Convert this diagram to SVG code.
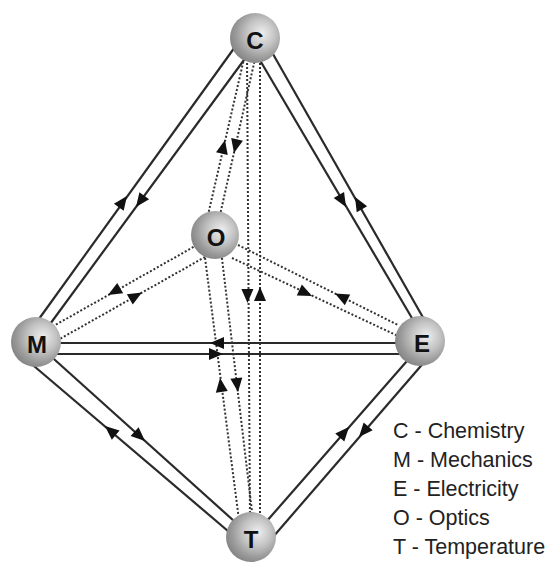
<svg xmlns="http://www.w3.org/2000/svg" xmlns:xlink="http://www.w3.org/1999/xlink" width="547" height="567" viewBox="0 0 547 567">
<style>
.solid{stroke:#2a2a2a;stroke-width:2.2;fill:none}
.dot{stroke:#333;stroke-width:2;stroke-dasharray:2 2;fill:none}
.ball{fill:url(#sph)}
.lbl{font-family:"Liberation Sans",Arial,sans-serif;font-size:24px;font-weight:bold;fill:#111;text-anchor:middle;dominant-baseline:central}
.leg{font-family:"Liberation Sans",Arial,sans-serif;font-size:21.5px;fill:#222}
</style>
<defs>
<radialGradient id="sph" cx="0.6" cy="0.42" r="0.62" fx="0.64" fy="0.4">
<stop offset="0" stop-color="#eeeeee"/>
<stop offset="0.45" stop-color="#c4c4c4"/>
<stop offset="0.8" stop-color="#999999"/>
<stop offset="1" stop-color="#858585"/>
</radialGradient>
<path id="ah" d="M0,0 L-14,-6 L-14,6 Z" fill="#111"/>
</defs>
<g id="connectors">
<line class="solid" x1="240" y1="40" x2="31" y2="330"/>
<line class="solid" x1="255" y1="45" x2="42" y2="335"/>
<line class="solid" x1="248" y1="40" x2="419" y2="330"/>
<line class="solid" x1="265" y1="40" x2="433" y2="335"/>
<line class="solid" x1="36" y1="343" x2="420" y2="343"/>
<line class="solid" x1="36" y1="354" x2="420" y2="354"/>
<line class="solid" x1="35" y1="342" x2="244" y2="530"/>
<line class="solid" x1="21" y1="355" x2="235" y2="537"/>
<line class="solid" x1="421" y1="345" x2="259" y2="530"/>
<line class="solid" x1="439" y1="345" x2="273" y2="537"/>
<line class="dot" x1="246" y1="50" x2="208" y2="215"/>
<line class="dot" x1="257" y1="50" x2="220" y2="215"/>
<line class="dot" x1="247" y1="55" x2="250" y2="520"/>
<line class="dot" x1="260" y1="55" x2="260" y2="520"/>
<line class="dot" x1="204" y1="250" x2="239" y2="520"/>
<line class="dot" x1="221" y1="250" x2="253" y2="520"/>
<line class="dot" x1="197" y1="245" x2="50" y2="328"/>
<line class="dot" x1="205" y1="257" x2="58" y2="340"/>
<line class="dot" x1="238" y1="245" x2="398" y2="325"/>
<line class="dot" x1="232" y1="258" x2="398" y2="336"/>
<use xlink:href="#ah" transform="translate(127,196) rotate(-54.1)"/>
<use xlink:href="#ah" transform="translate(136,207) rotate(126.2)"/>
<use xlink:href="#ah" transform="translate(346,207) rotate(59.5)"/>
<use xlink:href="#ah" transform="translate(355,197) rotate(-119.7)"/>
<use xlink:href="#ah" transform="translate(210,343) rotate(180)"/>
<use xlink:href="#ah" transform="translate(223,354) rotate(0)"/>
<use xlink:href="#ah" transform="translate(105,426) rotate(-139.7)"/>
<use xlink:href="#ah" transform="translate(145,441) rotate(41.9)"/>
<use xlink:href="#ah" transform="translate(349,427) rotate(-48.7)"/>
<use xlink:href="#ah" transform="translate(359,437) rotate(130.9)"/>
<use xlink:href="#ah" transform="translate(225,140) rotate(-77.1)"/>
<use xlink:href="#ah" transform="translate(234,153) rotate(102.6)"/>
<use xlink:href="#ah" transform="translate(247.5,303) rotate(89.6)"/>
<use xlink:href="#ah" transform="translate(260,287) rotate(-90)"/>
<use xlink:href="#ah" transform="translate(220,378) rotate(-97.4)"/>
<use xlink:href="#ah" transform="translate(238,392) rotate(83.2)"/>
<use xlink:href="#ah" transform="translate(108,295) rotate(150.6)"/>
<use xlink:href="#ah" transform="translate(142,292.5) rotate(-29.4)"/>
<use xlink:href="#ah" transform="translate(335,293.5) rotate(-153.4)"/>
<use xlink:href="#ah" transform="translate(312,296) rotate(25.2)"/>
</g>
<g id="node-C"><circle class="ball" cx="255" cy="38" r="25"/><text class="lbl" x="255" y="40">C</text></g>
<g id="node-O"><circle class="ball" cx="215" cy="235" r="24"/><text class="lbl" x="216" y="237">O</text></g>
<g id="node-M"><circle class="ball" cx="36" cy="342" r="25"/><text class="lbl" x="37" y="344">M</text></g>
<g id="node-E"><circle class="ball" cx="420" cy="341" r="25"/><text class="lbl" x="422" y="343">E</text></g>
<g id="node-T"><circle class="ball" cx="251" cy="537" r="25"/><text class="lbl" x="251" y="539">T</text></g>
<g id="legend">
<text class="leg" x="393" y="438">C - Chemistry</text>
<text class="leg" x="393" y="467">M - Mechanics</text>
<text class="leg" x="393" y="496">E - Electricity</text>
<text class="leg" x="393" y="525">O - Optics</text>
<text class="leg" x="393" y="554">T - Temperature</text>
</g>
</svg>
